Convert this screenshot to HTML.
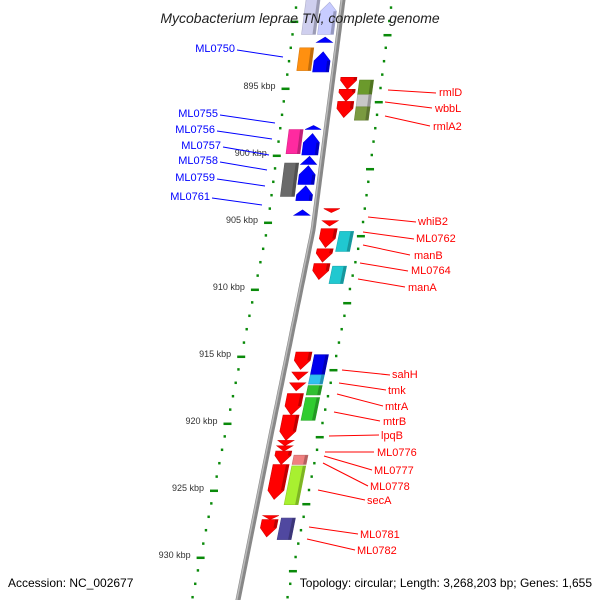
<!DOCTYPE html>
<html><head><meta charset="utf-8"><style>
html,body{margin:0;padding:0;background:#fff;}
svg{display:block;font-family:"Liberation Sans","DejaVu Sans",sans-serif;}
</style></head><body>
<svg id="map" width="600" height="600" viewBox="0 0 600 600">
<g id="dots"></g>
<path id="backbone" fill="none" stroke="#888" stroke-width="5"/>
<path id="backbone-hl" fill="none" stroke="#bbb" stroke-width="1.5"/>
<g id="genes"></g>
<g id="labels"></g>
<text x="300" y="23" text-anchor="middle" font-size="14" font-style="italic" fill="#222">Mycobacterium leprae TN, complete genome</text>
<text x="8" y="587" font-size="12" fill="#000">Accession: NC_002677</text>
<text x="592" y="587" text-anchor="end" font-size="12" fill="#000">Topology: circular; Length: 3,268,203 bp; Genes: 1,655</text>
</svg>
<script>
// gene data (kbp)
const geneStart = [888.4,888.6,891.2,892.0,892.3,894.2,895.1,896.0,894.4,895.5,896.4,897.8,898.1,898.4,900.1,900.8,902.3,900.6,904.1,904.0,904.9,905.5,905.7,907.0,908.1,908.3,914.7,914.9,916.2,916.4,917.0,917.2,917.8,918.1,919.4,921.3,921.7,922.1,922.4,923.1,923.2,926.9,927.2,927.1];
const geneEnd   = [891.0,891.0,891.6,893.7,893.8,895.1,896.0,897.2,895.5,896.4,897.4,898.1,899.9,900.0,900.7,902.2,903.4,903.1,904.5,904.3,905.3,906.9,907.2,908.0,909.3,909.6,916.0,916.4,916.8,917.1,917.6,917.9,919.4,919.8,921.3,921.7,922.1,923.1,923.1,925.7,926.1,927.2,928.5,928.7];
const geneTrack = ['L2','L1','L1','L2','L1','R1','R1','R1','R2','R2','R2','L1','L2','L1','L1','L1','L1','L2','L1','R1','R1','R1','R2','R1','R1','R2','R1','R2','R1','R2','R1','R2','R1','R2','R1','R1','R1','R1','R2','R1','R2','R1','R1','R2'];
const geneColor = ['#cfcfee','#c8ccff','#0000ff','#ff9010','#0000ff','#ff0000','#ff0000','#ff0000','#6b9a2c','#c8c8c8','#7a9a40','#0000ff','#ff2aa0','#0000ff','#0000ff','#0000ff','#0000ff','#6a6a6a','#0000ff','#ff0000','#ff0000','#ff0000','#20c8d0','#ff0000','#ff0000','#20c8d0','#ff0000','#0000ee','#ff0000','#30c0f0','#ff0000','#30c030','#ff0000','#30cc30','#ff0000','#ff0000','#ff0000','#ff0000','#f08080','#ff0000','#a8f030','#ff0000','#ff0000','#5048a0'];
// tick data
const tickKbp = [895,900,905,910,915,920,925,930];
const tickLabels = ['895 kbp','900 kbp','905 kbp','910 kbp','915 kbp','920 kbp','925 kbp','930 kbp'];
// labels
const leftNames = ['ML0750','ML0755','ML0756','ML0757','ML0758','ML0759','ML0761'];
const rightNames = ['rmlD','wbbL','rmlA2','whiB2','ML0762','manB','ML0764','manA','sahH','tmk','mtrA','mtrB','lpqB','ML0776','ML0777','ML0778','secA','ML0781','ML0782'];

const NS='http://www.w3.org/2000/svg';
const bp=[[0,343],[230,313],[440,270],[600,238]];
function bx(y){for(let i=0;i<bp.length-1;i++){const a=bp[i],b=bp[i+1];if(y<=b[0]||i==bp.length-2){return a[1]+(b[1]-a[1])*(y-a[0])/(b[0]-a[0]);}}}
function yk(k){return 88+(k-895)*13.4;}
const trackOff={L2:-30,L1:-13,R1:16,R2:34};
function mk(tag,attrs,parent){const e=document.createElementNS(NS,tag);for(const k in attrs)e.setAttribute(k,attrs[k]);parent.appendChild(e);return e;}
let d='';for(let y=-5;y<=605;y+=5)d+=(y<0?'M':'L')+bx(y).toFixed(1)+' '+y+' ';
document.getElementById('backbone').setAttribute('d',d);
let d2='';for(let y=-5;y<=605;y+=5)d2+=(y<0?'M':'L')+(bx(y)-1.2).toFixed(1)+' '+y+' ';
document.getElementById('backbone-hl').setAttribute('d',d2);

const dots=document.getElementById('dots');
for(let k=888;k<=933;k++){
  const y=yk(k);
  [[-46,0],[49,1]].forEach(([o,m])=>{
    const x=bx(y)+o;
    const dash=((k%5)===m);
    const e=mk('line',{x1:x-(dash?4:1.2),y1:y-(dash?-0.8:0),x2:x+(dash?4:1.2),y2:y+(dash?0.8:0),stroke:'#0a8a0a','stroke-width':2.5},dots);
    
    
  });
}
tickKbp.forEach((k,i)=>{
  const y=yk(k);const x=bx(y)-46;
  const t=mk('text',{x:x-10,y:y+1,'text-anchor':'end','font-size':9,fill:'#333'},dots);
  t.textContent=tickLabels[i];
  
  
});

function shade(c,f){const n=parseInt(c.slice(1),16);let r=n>>16,g=(n>>8)&255,b=n&255;r=Math.round(r*f);g=Math.round(g*f);b=Math.round(b*f);return `rgb(${r},${g},${b})`;}
const genes=document.getElementById('genes');
geneStart.forEach((s,i)=>{
  const y0=yk(s),y1=yk(geneEnd[i]);const tr=geneTrack[i];const o=trackOff[tr];
  const isBlock=tr==='L2'||tr==='R2';
  const w=isBlock?14:16,h=w/2;
  const L=(y)=>bx(y)+o-h, R=(y)=>bx(y)+o+h, C=(y)=>bx(y)+o;
  let pts;
  const len=y1-y0,ah=Math.min(9,len);
  if(isBlock){pts=[[L(y0),y0],[R(y0),y0],[R(y1),y1],[L(y1),y1]];}
  else if(tr[0]==='R'){const yb=y1-ah;pts=[[L(y0),y0],[R(y0),y0],[R(yb),yb],[C(y1),y1],[L(yb),yb]];}
  else{const yb=y0+ah;pts=[[C(y0),y0],[R(yb),yb],[R(y1),y1],[L(y1),y1],[L(yb),yb]];}
  const g=mk('g',{},genes);
  
  
  const p=mk('polygon',{points:pts.map(q=>q[0].toFixed(1)+','+q[1].toFixed(1)).join(' '),fill:geneColor[i],stroke:shade(geneColor[i],0.85),'stroke-width':0.6},g);
  
  
  // shaded side strip
  const sy0=isBlock?y0:(tr[0]==='R'?y0:y0+ah), sy1=isBlock?y1:(tr[0]==='R'?y1-ah:y1);
  const sp=mk('polygon',{points:[[R(sy0)-3,sy0],[R(sy0),sy0],[R(sy1),sy1],[R(sy1)-3,sy1]].map(q=>q[0].toFixed(1)+','+q[1].toFixed(1)).join(' '),fill:shade(geneColor[i],0.75)},g);
  
  
});

const labels=document.getElementById('labels');
const leftPos=[[235,52,237,50,283,57],[218,117,220,115,275,123],[215,133,217,131,272,139],[221,149,223,147,269,155],[218,164,220,162,267,170],[215,181,217,179,265,186],[210,200,212,198,262,205]];
leftNames.forEach((n,i)=>{const p=leftPos[i];
  const l=mk('line',{x1:p[2],y1:p[3],x2:p[4],y2:p[5],stroke:'#0000ff','stroke-width':1},labels);
  
  
  const t=mk('text',{x:p[0],y:p[1],'text-anchor':'end','font-size':11,fill:'#0000ff'},labels);t.textContent=n;
  
  
});
const rightPos=[[439,96,388,90,436,93],[435,112,385,102,432,108],[433,130,385,116,430,126],[418,225,368,217,416,222],[416,242,363,232,414,239],[414,259,363,245,410,255],[411,274,360,263,408,271],[408,291,358,279,405,287],[392,378,342,370,390,375],[388,394,339,383,386,390],[385,410,337,394,383,406],[383,425,334,412,380,421],[381,439,329,436,379,435],[377,456,325,452,374,452],[374,474,324,456,372,470],[370,490,323,463,368,486],[367,504,318,490,365,500],[360,538,309,527,358,534],[357,554,307,539,355,550]];
rightNames.forEach((n,i)=>{const p=rightPos[i];
  const l=mk('line',{x1:p[2],y1:p[3],x2:p[4],y2:p[5],stroke:'#ff0000','stroke-width':1},labels);
  
  
  const t=mk('text',{x:p[0],y:p[1],'font-size':11,fill:'#ff0000'},labels);t.textContent=n;
  
  
});
</script>
</body></html>
